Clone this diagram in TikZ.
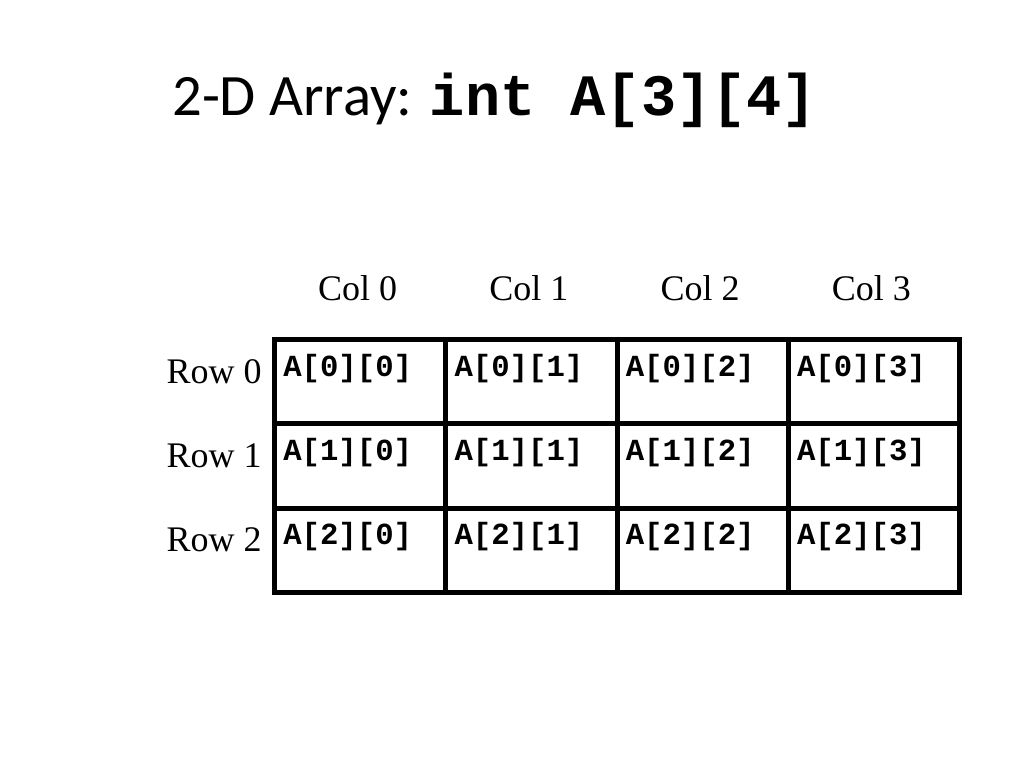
\documentclass[tikz,border=0pt]{standalone}
\usepackage{fontspec}
\setmainfont{Carlito}
\newfontfamily\codefont{Liberation Mono}
\newfontfamily\labelfont{Liberation Serif}
\usetikzlibrary{positioning}

\begin{document}
\begin{tikzpicture}[
    x=0.75pt, y=-0.75pt,
    cell/.style = {rectangle, draw=black, line width=3.75pt, minimum width=171.25*0.75pt, minimum height=84.3*0.75pt, anchor=north west, inner sep=0pt},
    entry/.style = {anchor=base west, inner sep=0pt, font=\codefont\bfseries\fontsize{23}{26}\selectfont},
    headlabel/.style = {anchor=base, inner sep=0pt, font=\labelfont\fontsize{27}{30}\selectfont},
    rowlabel/.style = {anchor=base east, inner sep=0pt, font=\labelfont\fontsize{27}{30}\selectfont}
  ]
  \useasboundingbox (0,0) rectangle (1024,768);
  \node (title) [anchor=base west, inner sep=0pt, font=\fontsize{44}{48}\selectfont] at (172,115)
    {2-D Array: {\codefont\bfseries int A[3][4]}};
  % column headings
  \foreach \c in {0,...,3} {
    \pgfmathsetmacro{\xc}{272+171.25*\c+85.6}
    \node (col\c) [headlabel] at (\xc,300) {Col \c};
  }
  % rows with cells
  \foreach \r in {0,1,2} {
    \pgfmathsetmacro{\yr}{337+84.3*\r}
    \node (row\r) [rowlabel] at (262,\yr+46) {Row \r};
    \foreach \c in {0,...,3} {
      \pgfmathsetmacro{\xc}{272+171.25*\c}
      \node (cell\r\c) [cell] at (\xc,\yr) {};
      \node (entry\r\c) [entry] at (\xc+11,\yr+39) {A[\r][\c]};
    }
  }
\end{tikzpicture}
\end{document}
